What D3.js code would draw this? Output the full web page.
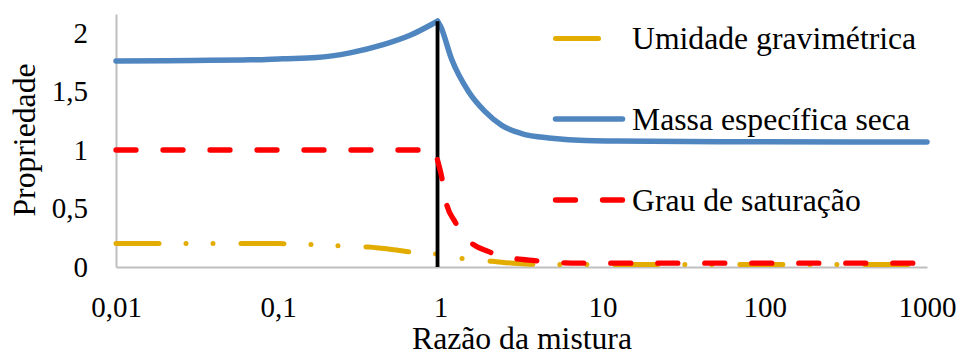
<!DOCTYPE html>
<html>
<head>
<meta charset="utf-8">
<script src="https://cdn.jsdelivr.net/npm/d3@7"></script>
<style>
  html, body { margin: 0; padding: 0; background: #fff; }
  svg { display: block; }
</style>
</head>
<body>
<svg id="chart" width="965" height="356"></svg>
<script>
// ---- data ----
const xTicks = [0.01, 0.1, 1, 10, 100, 1000];
const xTickLabels = ['0,01', '0,1', '1', '10', '100', '1000'];
const yTicks = [0, 0.5, 1, 1.5, 2];
const yTickLabels = ['0', '0,5', '1', '1,5', '2'];

const seriesNames = ['Umidade gravimétrica', 'Massa específica seca', 'Grau de saturação'];

// Umidade gravimétrica
const umidadeX = [0.01, 0.05, 0.1, 0.17, 0.25, 0.36, 0.5, 0.73, 0.95, 1.04, 1.52, 2.22, 3, 4.25, 10, 100, 1000];
const umidadeY = [0.20, 0.20, 0.20, 0.19, 0.18, 0.17, 0.15, 0.12, 0.11, 0.094, 0.066, 0.045, 0.03, 0.021, 0.021, 0.021, 0.021];

// Massa específica seca (pico em ~0.96)
const massaX = [0.01, 0.03, 0.067, 0.107, 0.172, 0.277, 0.444, 0.65, 0.96, 1.0, 1.17, 1.49, 1.88, 2.39, 3.17, 4.85, 7.8, 12, 100, 1000];
const massaY = [1.76, 1.765, 1.77, 1.78, 1.79, 1.83, 1.90, 1.98, 2.10, 2.06, 1.78, 1.50, 1.33, 1.21, 1.14, 1.10, 1.08, 1.077, 1.07, 1.068];

// Grau de saturação
const grauX = [0.01, 0.1, 0.5, 0.93, 0.949, 1.018, 1.083, 1.23, 1.52, 1.99, 2.8, 3.82, 5.5, 7.2, 100, 1000];
const grauY = [1, 1, 1, 1, 0.943, 0.772, 0.558, 0.387, 0.216, 0.131, 0.074, 0.054, 0.037, 0.033, 0.033, 0.033];

// linha vertical de referência
const refX = 0.96;
const refTop = 2.1;

// ---- layout ----
const FONT = '"Liberation Serif", "Times New Roman", "DejaVu Serif", serif';
const svg = d3.select('#chart');
svg.append('rect').attr('width', 965).attr('height', 356).attr('fill', '#fff');

const x = d3.scaleLog().domain([0.01, 1000]).range([116, 927]);
const y = d3.scaleLinear().domain([0, 2.162]).range([267, 14]);

const colors = ['#E3AC00', '#4F86C0', '#FF0000'];
const dashes = ['43,27,0,27,0,28', null, '20,27'];
const widths = [5, 5.5, 5.3];

// ---- axes ----
const xAxis = svg.append('g')
  .attr('transform', 'translate(0,267)')
  .call(d3.axisBottom(x).tickValues(xTicks).tickSize(0).tickSizeOuter(0)
    .tickFormat((d, i) => xTickLabels[i]))
  .attr('font-family', FONT);
xAxis.select('.domain').attr('stroke', '#BFBFBF').attr('stroke-width', 2);
xAxis.selectAll('text')
  .attr('y', 49.5).attr('dy', 0)
  .attr('font-size', 29).attr('font-family', FONT).attr('fill', '#000');

const yAxis = svg.append('g')
  .attr('transform', 'translate(116,0)')
  .call(d3.axisLeft(y).tickValues(yTicks).tickSize(0).tickSizeOuter(0).tickPadding(28)
    .tickFormat((d, i) => yTickLabels[i]))
  .attr('font-family', FONT);
yAxis.select('.domain').attr('stroke', '#BFBFBF').attr('stroke-width', 2);
yAxis.selectAll('text')
  .attr('font-size', 29).attr('font-family', FONT).attr('fill', '#000');

// titles
svg.append('text')
  .attr('x', 522).attr('y', 349)
  .attr('text-anchor', 'middle')
  .attr('font-family', FONT).attr('font-size', 31.7)
  .text('Razão da mistura');

svg.append('text')
  .attr('transform', 'translate(35,140) rotate(-90)')
  .attr('text-anchor', 'middle')
  .attr('font-family', FONT).attr('font-size', 31.7)
  .text('Propriedade');

// ---- series ----
const line = d3.line()
  .x(d => x(d[0]))
  .y(d => y(d[1]))
  .curve(d3.curveMonotoneX);

function drawSeries(xs, ys, i) {
  const pts = xs.map((v, k) => [v, ys[k]]);
  // quebra no pico para manter a ponta aguda
  const peak = d3.maxIndex(ys);
  const parts = (i === 1) ? [pts.slice(0, peak + 1), pts.slice(peak)] : [pts];
  parts.forEach(p => {
    svg.append('path')
      .attr('d', line(p))
      .attr('fill', 'none')
      .attr('stroke', colors[i])
      .attr('stroke-width', widths[i])
      .attr('stroke-linecap', 'round')
      .attr('stroke-linejoin', 'round')
      .attr('stroke-dasharray', dashes[i]);
  });
}

drawSeries(umidadeX, umidadeY, 0);
drawSeries(massaX, massaY, 1);

svg.append('line')
  .attr('x1', x(refX)).attr('x2', x(refX))
  .attr('y1', y(0)).attr('y2', y(refTop))
  .attr('stroke', '#000').attr('stroke-width', 3.8);

drawSeries(grauX, grauY, 2);

// ---- legend ----
const legendY = [38.5, 119, 200];
seriesNames.forEach((name, i) => {
  svg.append('line')
    .attr('x1', 555.5).attr('x2', 622.5)
    .attr('y1', legendY[i]).attr('y2', legendY[i])
    .attr('stroke', colors[i])
    .attr('stroke-width', widths[i])
    .attr('stroke-linecap', 'round')
    .attr('stroke-dasharray', dashes[i]);
  svg.append('text')
    .attr('x', 632).attr('y', legendY[i] + 10.5)
    .attr('font-family', FONT).attr('font-size', 31.7)
    .text(name);
});
</script>
</body>
</html>
